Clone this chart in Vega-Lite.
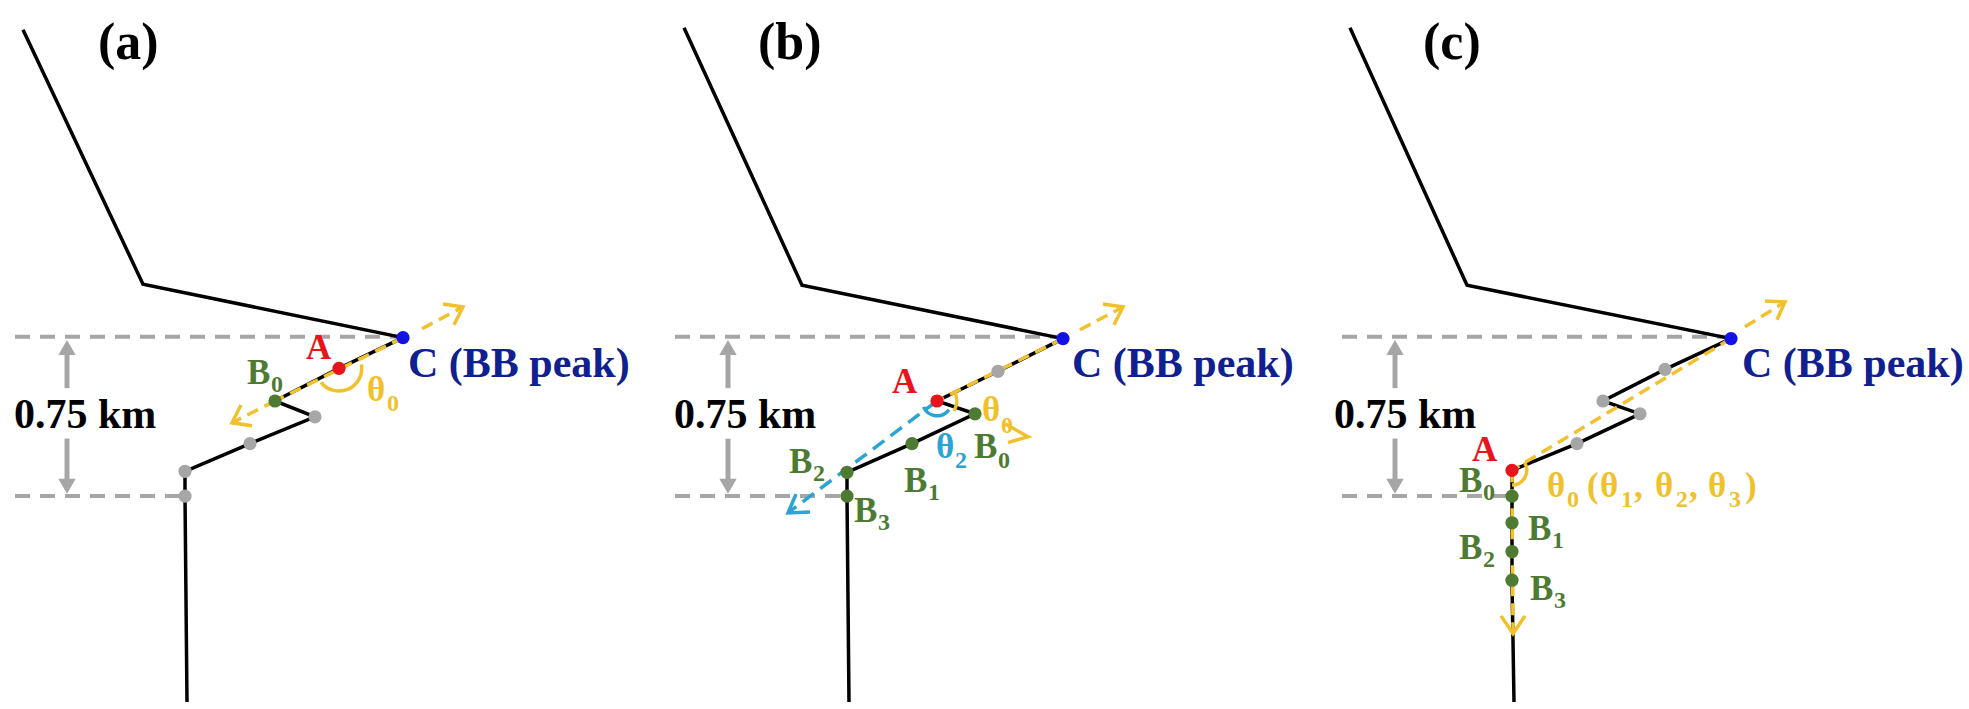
{
  "$schema": "https://vega.github.io/schema/vega-lite/v6.json",
  "width": 1969,
  "height": 709,
  "autosize": {"type": "fit", "contains": "padding"},
  "padding": 0,
  "background": "white",
  "config": {"view": {"stroke": null}},
  "datasets": {
    "paths": [
      {"p": "a", "o": 0, "x": 23, "y": 30}, {"p": "a", "o": 1, "x": 143, "y": 287}, {"p": "a", "o": 2, "x": 403, "y": 341}, {"p": "a", "o": 3, "x": 339, "y": 372}, {"p": "a", "o": 4, "x": 275, "y": 405}, {"p": "a", "o": 5, "x": 315, "y": 421}, {"p": "a", "o": 6, "x": 250, "y": 448}, {"p": "a", "o": 7, "x": 185, "y": 476}, {"p": "a", "o": 8, "x": 185, "y": 501}, {"p": "a", "o": 9, "x": 187, "y": 709},
      {"p": "b", "o": 0, "x": 684, "y": 28}, {"p": "b", "o": 1, "x": 802, "y": 288}, {"p": "b", "o": 2, "x": 1063, "y": 342}, {"p": "b", "o": 3, "x": 998, "y": 375}, {"p": "b", "o": 4, "x": 937, "y": 405}, {"p": "b", "o": 5, "x": 975, "y": 418}, {"p": "b", "o": 6, "x": 912, "y": 448}, {"p": "b", "o": 7, "x": 847, "y": 477}, {"p": "b", "o": 8, "x": 847, "y": 501}, {"p": "b", "o": 9, "x": 849, "y": 709},
      {"p": "c", "o": 0, "x": 1350, "y": 28}, {"p": "c", "o": 1, "x": 1467, "y": 288}, {"p": "c", "o": 2, "x": 1731, "y": 342}, {"p": "c", "o": 3, "x": 1665, "y": 373}, {"p": "c", "o": 4, "x": 1603, "y": 405}, {"p": "c", "o": 5, "x": 1640, "y": 418}, {"p": "c", "o": 6, "x": 1577, "y": 448}, {"p": "c", "o": 7, "x": 1512, "y": 475}, {"p": "c", "o": 8, "x": 1512, "y": 501}, {"p": "c", "o": 9, "x": 1512, "y": 586}, {"p": "c", "o": 10, "x": 1514, "y": 709}
    ],
    "hdash": [
      {"x": 15, "x2": 400, "y": 340}, {"x": 15, "x2": 185, "y": 501},
      {"x": 675, "x2": 1060, "y": 340}, {"x": 675, "x2": 847, "y": 501},
      {"x": 1342, "x2": 1728, "y": 340}, {"x": 1342, "x2": 1512, "y": 501}
    ],
    "shafts": [
      {"x": 67, "y": 351, "y2": 392}, {"x": 67, "y": 443, "y2": 491},
      {"x": 728, "y": 351, "y2": 392}, {"x": 728, "y": 443, "y2": 491},
      {"x": 1395, "y": 351, "y2": 392}, {"x": 1395, "y": 443, "y2": 491}
    ],
    "heads": [
      {"x": 67, "y": 351, "dir": "up"}, {"x": 67, "y": 491, "dir": "down"},
      {"x": 728, "y": 351, "dir": "up"}, {"x": 728, "y": 491, "dir": "down"},
      {"x": 1395, "y": 351, "dir": "up"}, {"x": 1395, "y": 491, "dir": "down"}
    ],
    "ydash": [
      {"id": "a1", "o": 0, "x": 403, "y": 341}, {"id": "a1", "o": 1, "x": 275, "y": 405},
      {"id": "a2", "o": 0, "x": 422, "y": 332}, {"id": "a2", "o": 1, "x": 463, "y": 310},
      {"id": "a3", "o": 0, "x": 275, "y": 405}, {"id": "a3", "o": 1, "x": 232, "y": 427},
      {"id": "b1", "o": 0, "x": 1063, "y": 342}, {"id": "b1", "o": 1, "x": 937, "y": 405},
      {"id": "b2", "o": 0, "x": 1080, "y": 333}, {"id": "b2", "o": 1, "x": 1123, "y": 310},
      {"id": "c1", "o": 0, "x": 1731, "y": 342}, {"id": "c1", "o": 1, "x": 1512, "y": 475},
      {"id": "c2", "o": 0, "x": 1745, "y": 330}, {"id": "c2", "o": 1, "x": 1785, "y": 305},
      {"id": "c3", "o": 0, "x": 1512, "y": 475}, {"id": "c3", "o": 1, "x": 1513, "y": 640}
    ],
    "bdash": [
      {"id": "b", "o": 0, "x": 937, "y": 405}, {"id": "b", "o": 1, "x": 788, "y": 518}
    ],
    "chev": [
      {"id": "a1", "o": 0, "x": 443, "y": 307, "kind": "yellow"}, {"id": "a1", "o": 1, "x": 463, "y": 310, "kind": "yellow"}, {"id": "a1", "o": 2, "x": 454, "y": 328, "kind": "yellow"},
      {"id": "a2", "o": 0, "x": 252, "y": 430, "kind": "yellow"}, {"id": "a2", "o": 1, "x": 232, "y": 427, "kind": "yellow"}, {"id": "a2", "o": 2, "x": 241, "y": 409, "kind": "yellow"},
      {"id": "b1", "o": 0, "x": 1103, "y": 307, "kind": "yellow"}, {"id": "b1", "o": 1, "x": 1123, "y": 310, "kind": "yellow"}, {"id": "b1", "o": 2, "x": 1114, "y": 328, "kind": "yellow"},
      {"id": "b2", "o": 0, "x": 1005, "y": 428, "kind": "yellow"}, {"id": "b2", "o": 1, "x": 1028, "y": 441, "kind": "yellow"}, {"id": "b2", "o": 2, "x": 1008, "y": 447, "kind": "yellow"},
      {"id": "b3", "o": 0, "x": 810, "y": 517, "kind": "cyan"}, {"id": "b3", "o": 1, "x": 788, "y": 518, "kind": "cyan"}, {"id": "b3", "o": 2, "x": 796, "y": 499, "kind": "cyan"},
      {"id": "c1", "o": 0, "x": 1765, "y": 304, "kind": "yellow"}, {"id": "c1", "o": 1, "x": 1785, "y": 305, "kind": "yellow"}, {"id": "c1", "o": 2, "x": 1777, "y": 323, "kind": "yellow"},
      {"id": "c2", "o": 0, "x": 1501, "y": 622, "kind": "yellow"}, {"id": "c2", "o": 1, "x": 1513, "y": 640, "kind": "yellow"}, {"id": "c2", "o": 2, "x": 1525, "y": 622, "kind": "yellow"}
    ],
    "arcs": [
      {"id": "a", "x": 339, "y": 372},
      {"id": "b", "x": 937, "y": 405},
      {"id": "c", "x": 1512, "y": 475}
    ],
    "pts": [
      {"x": 315, "y": 421, "kind": "gray"}, {"x": 250, "y": 448, "kind": "gray"}, {"x": 185, "y": 476, "kind": "gray"}, {"x": 185, "y": 501, "kind": "gray"},
      {"x": 403, "y": 341, "kind": "blue"}, {"x": 339, "y": 372, "kind": "red"}, {"x": 275, "y": 405, "kind": "green"},
      {"x": 998, "y": 375, "kind": "gray"},
      {"x": 1063, "y": 342, "kind": "blue"}, {"x": 937, "y": 405, "kind": "red"}, {"x": 975, "y": 418, "kind": "green"}, {"x": 912, "y": 448, "kind": "green"}, {"x": 847, "y": 477, "kind": "green"}, {"x": 847, "y": 501, "kind": "green"},
      {"x": 1665, "y": 373, "kind": "gray"}, {"x": 1603, "y": 405, "kind": "gray"}, {"x": 1640, "y": 418, "kind": "gray"}, {"x": 1577, "y": 448, "kind": "gray"},
      {"x": 1731, "y": 342, "kind": "blue"}, {"x": 1512, "y": 475, "kind": "red"}, {"x": 1512, "y": 501, "kind": "green"}, {"x": 1512, "y": 528, "kind": "green"}, {"x": 1512, "y": 557, "kind": "green"}, {"x": 1512, "y": 586, "kind": "green"}
    ],
    "labels": [
      {"t": "(a)", "x": 98, "y": 60, "role": "title", "kind": "black"},
      {"t": "0.75 km", "x": 14, "y": 432, "role": "big", "kind": "black"},
      {"t": "C (BB peak)", "x": 408, "y": 381, "role": "big", "kind": "navy"},
      {"t": "A", "x": 306, "y": 363, "role": "lab", "kind": "red"},
      {"t": "B", "x": 247, "y": 388, "role": "lab", "kind": "green"},
      {"t": "0", "x": 271, "y": 396, "role": "sub", "kind": "green"},
      {"t": "θ", "x": 367, "y": 405, "role": "lab", "kind": "yellow"},
      {"t": "0", "x": 387, "y": 415, "role": "sub", "kind": "yellow"},

      {"t": "(b)", "x": 758, "y": 60, "role": "title", "kind": "black"},
      {"t": "0.75 km", "x": 674, "y": 432, "role": "big", "kind": "black"},
      {"t": "C (BB peak)", "x": 1072, "y": 381, "role": "big", "kind": "navy"},
      {"t": "A", "x": 892, "y": 397, "role": "lab", "kind": "red"},
      {"t": "θ", "x": 982, "y": 425, "role": "lab", "kind": "yellow"},
      {"t": "0", "x": 1001, "y": 437, "role": "sub", "kind": "yellow"},
      {"t": "θ", "x": 936, "y": 463, "role": "lab", "kind": "cyan"},
      {"t": "2", "x": 955, "y": 473, "role": "sub", "kind": "cyan"},
      {"t": "B", "x": 974, "y": 463, "role": "lab", "kind": "green"},
      {"t": "0", "x": 998, "y": 473, "role": "sub", "kind": "green"},
      {"t": "B", "x": 904, "y": 497, "role": "lab", "kind": "green"},
      {"t": "1", "x": 928, "y": 505, "role": "sub", "kind": "green"},
      {"t": "B", "x": 789, "y": 478, "role": "lab", "kind": "green"},
      {"t": "2", "x": 813, "y": 486, "role": "sub", "kind": "green"},
      {"t": "B", "x": 854, "y": 527, "role": "lab", "kind": "green"},
      {"t": "3", "x": 878, "y": 535, "role": "sub", "kind": "green"},

      {"t": "(c)", "x": 1423, "y": 60, "role": "title", "kind": "black"},
      {"t": "0.75 km", "x": 1334, "y": 432, "role": "big", "kind": "black"},
      {"t": "C (BB peak)", "x": 1742, "y": 381, "role": "big", "kind": "navy"},
      {"t": "A", "x": 1472, "y": 466, "role": "lab", "kind": "red"},
      {"t": "B", "x": 1459, "y": 497, "role": "lab", "kind": "green"},
      {"t": "0", "x": 1483, "y": 505, "role": "sub", "kind": "green"},
      {"t": "B", "x": 1528, "y": 545, "role": "lab", "kind": "green"},
      {"t": "1", "x": 1552, "y": 553, "role": "sub", "kind": "green"},
      {"t": "B", "x": 1459, "y": 565, "role": "lab", "kind": "green"},
      {"t": "2", "x": 1483, "y": 573, "role": "sub", "kind": "green"},
      {"t": "B", "x": 1530, "y": 606, "role": "lab", "kind": "green"},
      {"t": "3", "x": 1554, "y": 614, "role": "sub", "kind": "green"},
      {"t": "θ", "x": 1547, "y": 502, "role": "lab", "kind": "yellow"},
      {"t": "0", "x": 1567, "y": 512, "role": "sub", "kind": "yellow"},
      {"t": "(", "x": 1587, "y": 502, "role": "lab", "kind": "yellow"},
      {"t": "θ", "x": 1600, "y": 502, "role": "lab", "kind": "yellow"},
      {"t": "1", "x": 1621, "y": 512, "role": "sub", "kind": "yellow"},
      {"t": ",", "x": 1634, "y": 502, "role": "lab", "kind": "yellow"},
      {"t": "θ", "x": 1655, "y": 502, "role": "lab", "kind": "yellow"},
      {"t": "2", "x": 1676, "y": 512, "role": "sub", "kind": "yellow"},
      {"t": ",", "x": 1689, "y": 502, "role": "lab", "kind": "yellow"},
      {"t": "θ", "x": 1708, "y": 502, "role": "lab", "kind": "yellow"},
      {"t": "3", "x": 1729, "y": 512, "role": "sub", "kind": "yellow"},
      {"t": ")", "x": 1745, "y": 502, "role": "lab", "kind": "yellow"}
    ]
  },
  "encoding": {
    "x": {"field": "x", "type": "quantitative", "scale": {"domain": [0, 1969], "nice": false, "zero": false}, "axis": null},
    "y": {"field": "y", "type": "quantitative", "scale": {"domain": [0, 709], "nice": false, "zero": false, "reverse": true}, "axis": null}
  },
  "layer": [
    {
      "data": {"name": "hdash"},
      "mark": {"type": "rule", "color": "#a6a6a6", "strokeWidth": 4, "strokeDash": [15, 10]},
      "encoding": {"x2": {"field": "x2"}}
    },
    {
      "data": {"name": "shafts"},
      "mark": {"type": "rule", "color": "#a6a6a6", "strokeWidth": 5},
      "encoding": {"y2": {"field": "y2"}}
    },
    {
      "data": {"name": "heads"},
      "transform": [{"filter": "datum.dir == 'up'"}],
      "mark": {"type": "point", "shape": "triangle-up", "filled": true, "color": "#a6a6a6", "opacity": 1, "size": 300}
    },
    {
      "data": {"name": "heads"},
      "transform": [{"filter": "datum.dir == 'down'"}],
      "mark": {"type": "point", "shape": "triangle-down", "filled": true, "color": "#a6a6a6", "opacity": 1, "size": 300}
    },
    {
      "data": {"name": "paths"},
      "mark": {"type": "line", "color": "#000000", "strokeWidth": 3.5},
      "encoding": {"detail": {"field": "p"}, "order": {"field": "o"}}
    },
    {
      "data": {"name": "ydash"},
      "mark": {"type": "line", "color": "#f2c12e", "strokeWidth": 3.5, "strokeDash": [12, 7]},
      "encoding": {"detail": {"field": "id"}, "order": {"field": "o"}}
    },
    {
      "data": {"name": "bdash"},
      "mark": {"type": "line", "color": "#2ba3d3", "strokeWidth": 3.5, "strokeDash": [14, 8]},
      "encoding": {"detail": {"field": "id"}, "order": {"field": "o"}}
    },
    {
      "data": {"name": "chev"},
      "mark": {"type": "line", "strokeWidth": 3.5},
      "encoding": {
        "detail": {"field": "id"},
        "order": {"field": "o"},
        "color": {"field": "kind", "type": "nominal", "legend": null,
          "scale": {"domain": ["black", "navy", "red", "green", "yellow", "cyan", "gray", "blue"],
                    "range": ["#000000", "#11208f", "#e8141b", "#4e7b32", "#f0c12c", "#2ba3d3", "#a6a6a6", "#1212e6"]}}
      }
    },
    {
      "data": {"name": "arcs"},
      "transform": [{"filter": "datum.id == 'a'"}],
      "mark": {"type": "arc", "color": "#f0c12c", "theta": 1.4, "theta2": 4.05, "radius": 24.5, "radius2": 21}
    },
    {
      "data": {"name": "arcs"},
      "transform": [{"filter": "datum.id == 'b'"}],
      "mark": {"type": "arc", "color": "#f0c12c", "theta": 1.0, "theta2": 2.1, "radius": 21.5, "radius2": 18}
    },
    {
      "data": {"name": "arcs"},
      "transform": [{"filter": "datum.id == 'b'"}],
      "mark": {"type": "arc", "color": "#2ba3d3", "theta": 2.2, "theta2": 4.3, "radius": 16.5, "radius2": 13}
    },
    {
      "data": {"name": "arcs"},
      "transform": [{"filter": "datum.id == 'c'"}],
      "mark": {"type": "arc", "color": "#f0c12c", "theta": 1.0, "theta2": 3.14, "radius": 16.5, "radius2": 13}
    },
    {
      "data": {"name": "pts"},
      "mark": {"type": "point", "filled": true, "opacity": 1, "size": 175},
      "encoding": {
        "color": {"field": "kind", "type": "nominal", "legend": null,
          "scale": {"domain": ["black", "navy", "red", "green", "yellow", "cyan", "gray", "blue"],
                    "range": ["#000000", "#11208f", "#e8141b", "#4e7b32", "#f0c12c", "#2ba3d3", "#a6a6a6", "#1212e6"]}}
      }
    },
    {
      "data": {"name": "labels"},
      "transform": [{"filter": "datum.role == 'title'"}],
      "mark": {"type": "text", "font": "Liberation Serif", "fontWeight": "bold", "fontSize": 52, "align": "left", "baseline": "alphabetic"},
      "encoding": {"text": {"field": "t"}, "color": {"field": "kind", "type": "nominal", "legend": null}}
    },
    {
      "data": {"name": "labels"},
      "transform": [{"filter": "datum.role == 'big'"}],
      "mark": {"type": "text", "font": "Liberation Serif", "fontWeight": "bold", "fontSize": 42, "align": "left", "baseline": "alphabetic"},
      "encoding": {"text": {"field": "t"}, "color": {"field": "kind", "type": "nominal", "legend": null}}
    },
    {
      "data": {"name": "labels"},
      "transform": [{"filter": "datum.role == 'lab'"}],
      "mark": {"type": "text", "font": "Liberation Serif", "fontWeight": "bold", "fontSize": 35, "align": "left", "baseline": "alphabetic"},
      "encoding": {"text": {"field": "t"}, "color": {"field": "kind", "type": "nominal", "legend": null}}
    },
    {
      "data": {"name": "labels"},
      "transform": [{"filter": "datum.role == 'sub'"}],
      "mark": {"type": "text", "font": "Liberation Serif", "fontWeight": "bold", "fontSize": 24, "align": "left", "baseline": "alphabetic"},
      "encoding": {"text": {"field": "t"}, "color": {"field": "kind", "type": "nominal", "legend": null}}
    }
  ]
}
